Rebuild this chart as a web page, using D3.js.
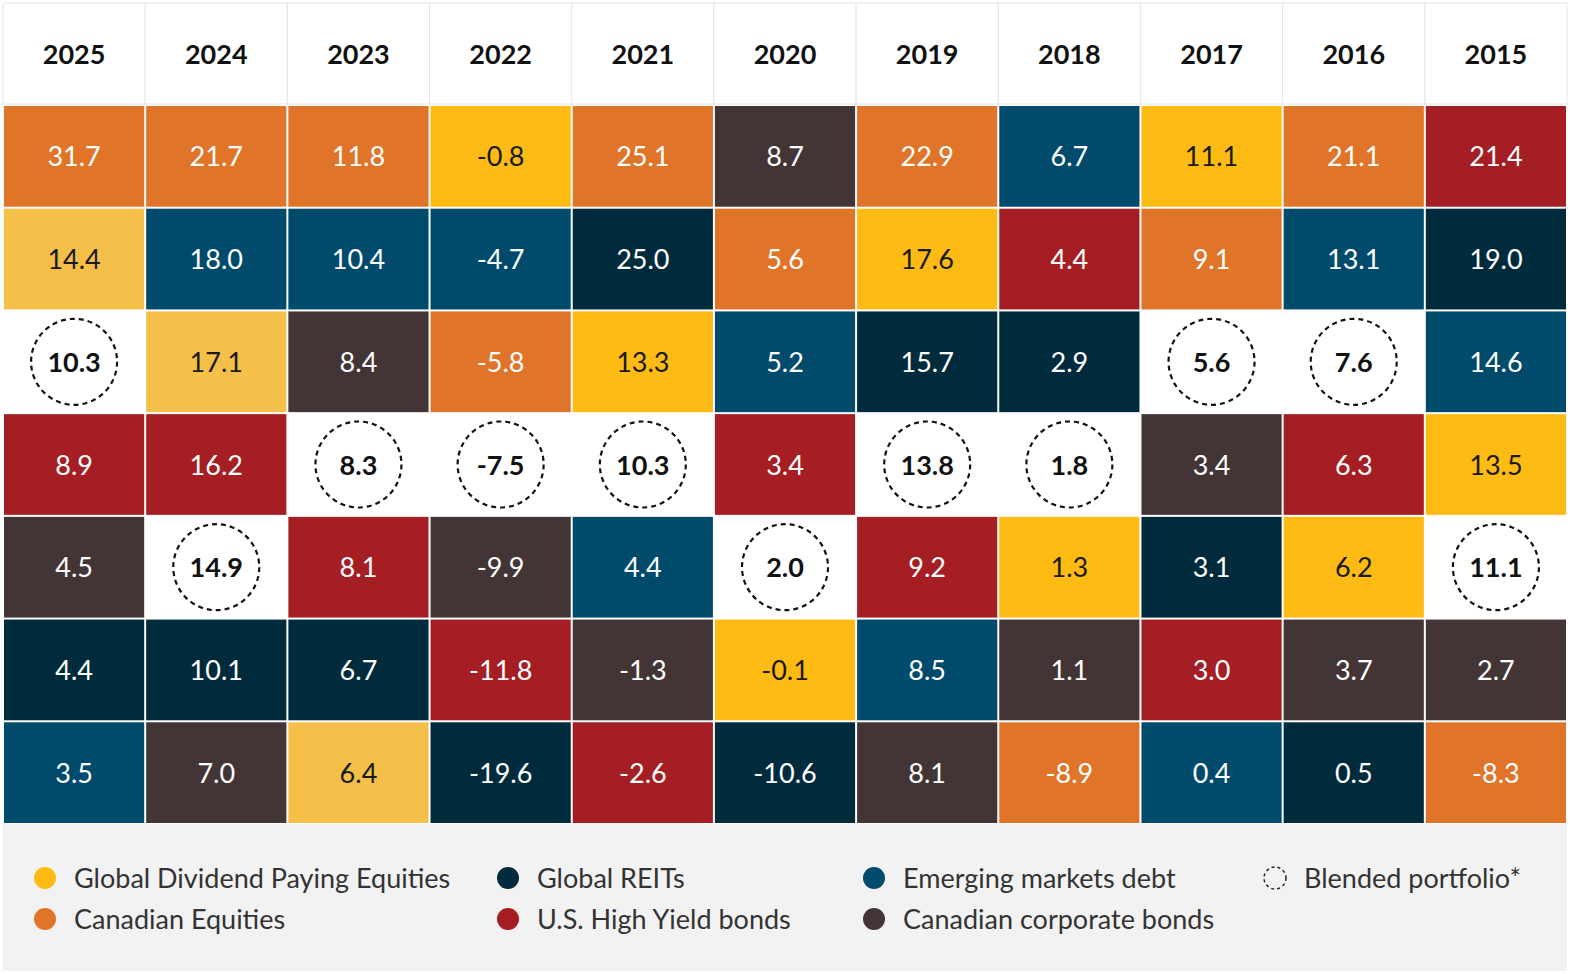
<!DOCTYPE html>
<html><head><meta charset="utf-8">
<script src="https://cdn.jsdelivr.net/npm/d3@7"></script>
<style>body{margin:0;background:#fff;font-family:Lato,"Open Sans",sans-serif}</style>
</head><body><svg id="c" width="1570" height="974"></svg>
<script>
const years=["2025","2024","2023","2022","2021","2020","2019","2018","2017","2016","2015"];
const cats=["Y","O","N","B","R","D","P"];
const catNames=["Global Dividend Paying Equities","Canadian Equities","Global REITs","Emerging markets debt","U.S. High Yield bonds","Canadian corporate bonds","Blended portfolio*"];
const legendCats=["Y","O","N","R","B","D","P"];
const colors={Y:"#FDBB13",O:"#E07428",N:"#002B3D",B:"#004B6B",R:"#A51E23",D:"#433536",P:"#ffffff"};
const lightYellowYears=["2025","2024","2023"];
const colCats=[
["O","Y","P","R","D","N","B"],["O","B","Y","R","P","N","D"],["O","B","D","P","R","N","Y"],
["Y","B","O","P","D","R","N"],["O","N","Y","P","B","D","R"],["D","O","B","R","P","Y","N"],
["O","Y","N","P","R","B","D"],["B","R","N","P","Y","D","O"],["Y","O","P","D","N","R","B"],
["O","B","P","R","Y","D","N"],["R","N","B","Y","P","D","O"]];
const colVals=[
[31.7,14.4,10.3,8.9,4.5,4.4,3.5],[21.7,18.0,17.1,16.2,14.9,10.1,7.0],[11.8,10.4,8.4,8.3,8.1,6.7,6.4],
[-0.8,-4.7,-5.8,-7.5,-9.9,-11.8,-19.6],[25.1,25.0,13.3,10.3,4.4,-1.3,-2.6],[8.7,5.6,5.2,3.4,2.0,-0.1,-10.6],
[22.9,17.6,15.7,13.8,9.2,8.5,8.1],[6.7,4.4,2.9,1.8,1.3,1.1,-8.9],[11.1,9.1,5.6,3.4,3.1,3.0,0.4],
[21.1,13.1,7.6,6.3,6.2,3.7,0.5],[21.4,19.0,14.6,13.5,11.1,2.7,-8.3]];
const svg=d3.select("#c");
const x=d3.scaleBand().domain(years).range([3,1567]);
const ranks=d3.range(7);
const y=d3.scaleBand().domain(ranks).range([105,824]);
svg.append("rect").attr("x",3).attr("y",824).attr("width",1564).attr("height",147).attr("fill","#F2F2F2");
// header
years.forEach((yr,i)=>{
  svg.append("rect").attr("x",x(yr)).attr("y",3).attr("width",x.bandwidth()).attr("height",101)
    .attr("fill","#fff").attr("stroke","#e6e6e6");
  svg.append("text").attr("x",x(yr)+x.bandwidth()/2).attr("y",64).attr("text-anchor","middle")
    .attr("font-size",27).attr("font-weight",700).attr("fill","#111").text(yr);
});
years.forEach((yr,i)=>{
  ranks.forEach(r=>{
    const c=colCats[i][r], v=colVals[i][r];
    const cx=x(yr)+x.bandwidth()/2, cy=y(r)+y.bandwidth()/2;
    let fill=colors[c];
    if(c==="Y"&&lightYellowYears.includes(yr)) fill="#F4C04A";
    svg.append("rect").attr("x",x(yr)+1).attr("y",y(r)+1).attr("width",x.bandwidth()-2).attr("height",y.bandwidth()-2).attr("fill",fill);
    const t=svg.append("text").attr("x",cx).attr("y",cy+10).attr("text-anchor","middle").attr("font-size",27).text(v.toFixed(1));
    if(c==="P"){
      svg.append("circle").attr("cx",cx).attr("cy",cy).attr("r",43).attr("fill","none").attr("stroke","#111").attr("stroke-width",2.2).attr("stroke-dasharray","5,4");
      t.attr("font-weight",700).attr("fill","#111");
    } else t.attr("fill",c==="Y"?"#1a1a1a":"#fff");
  });
});
// legend
const lx=[45,508,874,1275], ly=[878,919];
legendCats.forEach((c,k)=>{
  const col=Math.floor(k/2), row=k%2;
  const px=lx[col], py=ly[row];
  if(c==="P") svg.append("circle").attr("cx",px).attr("cy",py).attr("r",11).attr("fill","none").attr("stroke","#222").attr("stroke-width",1.5).attr("stroke-dasharray","3,3");
  else svg.append("circle").attr("cx",px).attr("cy",py).attr("r",11).attr("fill",colors[c]);
  svg.append("text").attr("x",px+29).attr("y",py+10).attr("font-size",27).attr("fill","#333").text(catNames[cats.indexOf(c)]);
});
</script></body></html>
